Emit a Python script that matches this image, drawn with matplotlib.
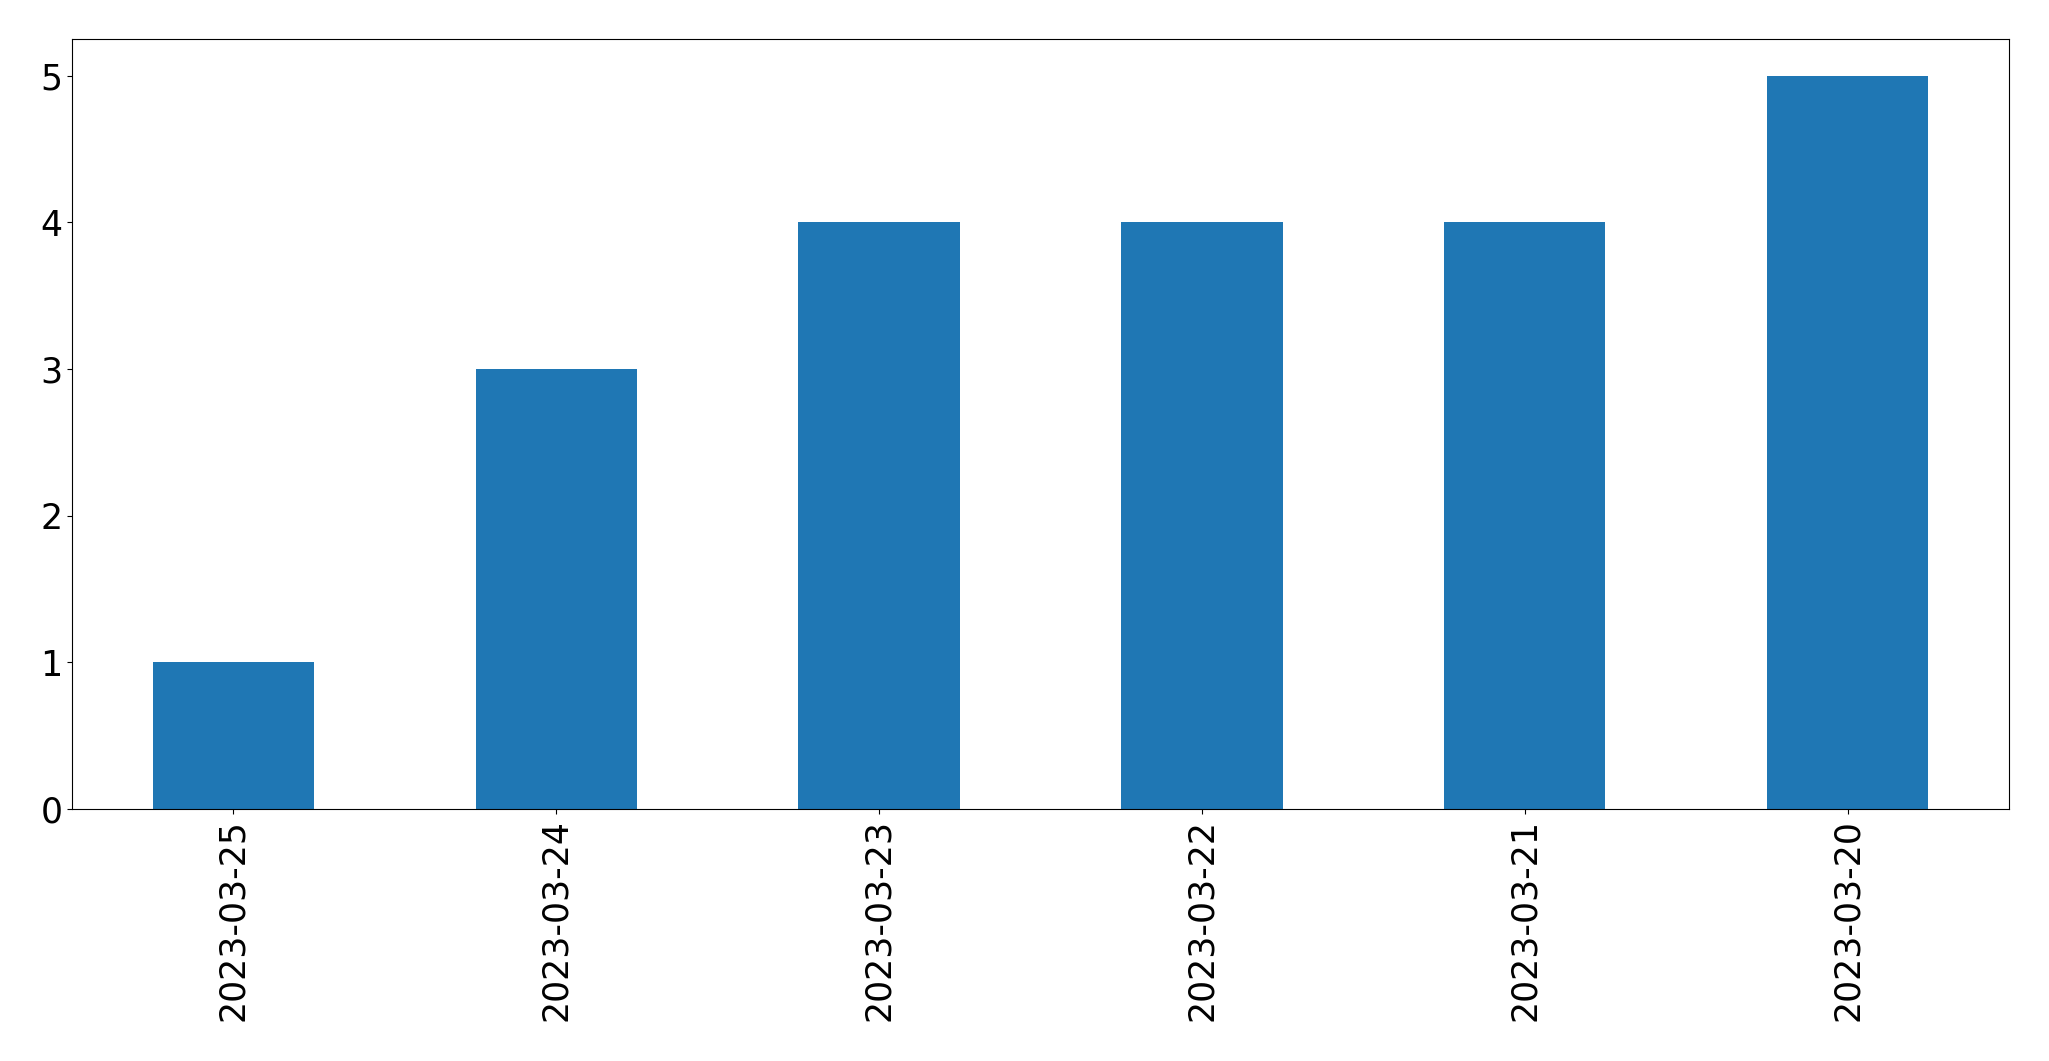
import matplotlib
matplotlib.use("Agg")
from matplotlib import pyplot as plt

dates = ['2023-03-25', '2023-03-24', '2023-03-23', '2023-03-22', '2023-03-21', '2023-03-20']
counts = [1, 3, 4, 4, 4, 5]

fig = plt.figure(figsize=(20.49, 10.61), dpi=100)
ax = fig.add_axes([72 / 2049, 1 - 809 / 1061, (2009 - 72) / 2049, (809 - 39) / 1061])

x = range(len(dates))
ax.bar(x, counts, width=0.5, color='#1f77b4')
ax.set_xlim(-0.5, len(dates) - 0.5)
ax.set_ylim(0, 5.25)
ax.set_xticks(list(x))
ax.set_xticklabels(dates, rotation=90)
ax.tick_params(axis='both', labelsize=25)

fig.savefig("out.png", dpi=100)
